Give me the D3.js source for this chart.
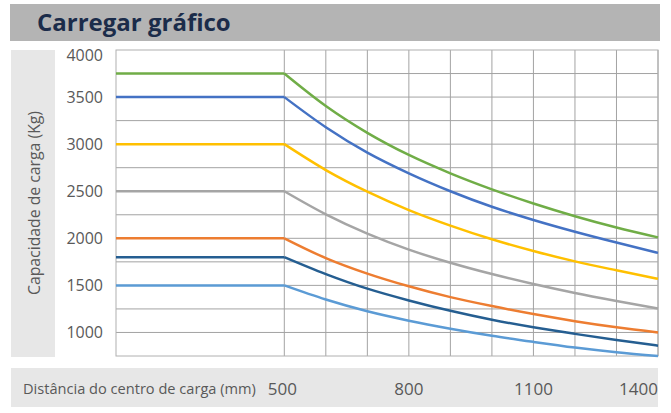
<!DOCTYPE html>
<html>
<head>
<meta charset="utf-8">
<script src="https://cdn.jsdelivr.net/npm/d3@7"></script>
<style>
  body { margin: 0; background: #fff; }
  text { font-family: "Open Sans", sans-serif; }
</style>
</head>
<body>
<div id="chart"></div>
<script>
// load centre distances (mm) where the curves are read
var distances = [500, 600, 700, 800, 900, 1000, 1100, 1200, 1300, 1400];
var xTickLabels = [500, 800, 1100, 1400];
var yTickLabels = [1000, 1500, 2000, 2500, 3000, 3500, 4000];
var yGrid = [1000, 1250, 1500, 1750, 2000, 2250, 2500, 2750, 3000, 3250, 3500, 3750];

// capacity (kg) per curve, one value per distance
var green = [3750, 3405, 3120, 2885, 2690, 2520, 2370, 2235, 2115, 2010];
var blue = [3500, 3180, 2910, 2690, 2500, 2335, 2195, 2070, 1955, 1845];
var yellow = [3000, 2725, 2495, 2300, 2135, 1990, 1865, 1755, 1660, 1570];
var grey = [2500, 2255, 2050, 1880, 1740, 1620, 1515, 1420, 1335, 1255];
var orange = [2000, 1790, 1625, 1490, 1375, 1280, 1195, 1120, 1055, 1000];
var darkBlue = [1800, 1620, 1465, 1340, 1230, 1135, 1055, 985, 920, 860];
var lightBlue = [1500, 1350, 1225, 1125, 1040, 965, 900, 840, 790, 750];

var series = [
  { values: lightBlue, color: "#5b9bd5" },
  { values: darkBlue, color: "#255e91" },
  { values: orange, color: "#ed7d31" },
  { values: grey, color: "#a5a5a5" },
  { values: yellow, color: "#ffc000" },
  { values: blue, color: "#4472c4" },
  { values: green, color: "#70ad47" }
];

var W = 671, H = 413;
var margin = { top: 50, right: 13, bottom: 57, left: 116 },
  width = W - margin.left - margin.right,
  height = H - margin.top - margin.bottom;

var root = d3.select("#chart").append("svg")
  .attr("width", W)
  .attr("height", H);

// title bar
root.append("rect")
  .attr("x", 10).attr("y", 4).attr("width", 650).attr("height", 37)
  .attr("fill", "#b4b4b4");
root.append("text")
  .attr("x", 37).attr("y", 31)
  .attr("font-size", 24).attr("font-weight", "bold")
  .attr("fill", "#1b2c4a")
  .text("Carregar gráfico");

// y title panel
root.append("rect")
  .attr("x", 11).attr("y", 50).attr("width", 44).attr("height", 307)
  .attr("fill", "#e7e7e7");
root.append("text")
  .attr("transform", "translate(40,203)rotate(-90)")
  .attr("text-anchor", "middle")
  .attr("font-size", 16)
  .attr("textLength", 184)
  .attr("lengthAdjust", "spacingAndGlyphs")
  .attr("fill", "#595959")
  .text("Capacidade de carga (Kg)");

// x title band
root.append("rect")
  .attr("x", 11).attr("y", 368).attr("width", 647).attr("height", 39)
  .attr("fill", "#e7e7e7");
root.append("text")
  .attr("x", 23).attr("y", 394)
  .attr("font-size", 14.6)
  .attr("fill", "#595959")
  .text("Distância do centro de carga (mm)");

var svg = root.append("g")
  .attr("transform", "translate(" + margin.left + "," + margin.top + ")");

// the part left of 500 mm is just the flat section
var x = d3.scaleLinear().domain([0, 500, 1400]).range([0, 168.3, width]);
var y = d3.scaleLinear().domain([750, 4000]).range([height, 0]);

// grid
svg.append("g")
  .selectAll("line.h")
  .data(yGrid)
  .enter()
  .append("line")
  .attr("x1", 0).attr("x2", width)
  .attr("y1", function (d) { return y(d); })
  .attr("y2", function (d) { return y(d); })
  .attr("stroke", "#a3a3a3").attr("stroke-width", 1);

svg.append("g")
  .selectAll("line.v")
  .data(distances)
  .enter()
  .append("line")
  .attr("x1", function (d) { return x(d); })
  .attr("x2", function (d) { return x(d); })
  .attr("y1", 0).attr("y2", height)
  .attr("stroke", "#a3a3a3").attr("stroke-width", 1);

svg.append("rect")
  .attr("x", 0).attr("y", 0).attr("width", width).attr("height", height)
  .attr("fill", "none").attr("stroke", "#b0b0b0").attr("stroke-width", 1);

// y tick labels
svg.append("g")
  .selectAll("text")
  .data(yTickLabels)
  .enter()
  .append("text")
  .attr("x", -13)
  .attr("y", function (d) { return d === 4000 ? y(d) + 5 : y(d); })
  .attr("dy", "0.36em")
  .attr("text-anchor", "end")
  .attr("font-size", 16)
  .attr("fill", "#595959")
  .text(function (d) { return d; });

// x tick labels
root.append("g")
  .selectAll("text")
  .data(xTickLabels)
  .enter()
  .append("text")
  .attr("x", function (d) { return margin.left + x(d) - (d === 500 ? 2 : 0); })
  .attr("y", 395)
  .attr("text-anchor", function (d) { return d === 1400 ? "end" : "middle"; })
  .attr("font-size", 17)
  .attr("fill", "#595959")
  .text(function (d) { return d; });

// curves
var flat = d3.line()
  .x(function (d) { return x(d[0]); })
  .y(function (d) { return y(d[1]); });
var curve = d3.line()
  .x(function (d) { return x(d[0]); })
  .y(function (d) { return y(d[1]); })
  .curve(d3.curveMonotoneX);

series.forEach(function (s) {
  var pts = distances.map(function (d, i) { return [d, s.values[i]]; });
  svg.append("path")
    .attr("d", flat([[0, s.values[0]], pts[0]]))
    .attr("fill", "none")
    .attr("stroke", s.color)
    .attr("stroke-width", 2.5);
  svg.append("path")
    .attr("d", curve(pts))
    .attr("fill", "none")
    .attr("stroke", s.color)
    .attr("stroke-width", 2.5);
});
</script>
</body>
</html>
